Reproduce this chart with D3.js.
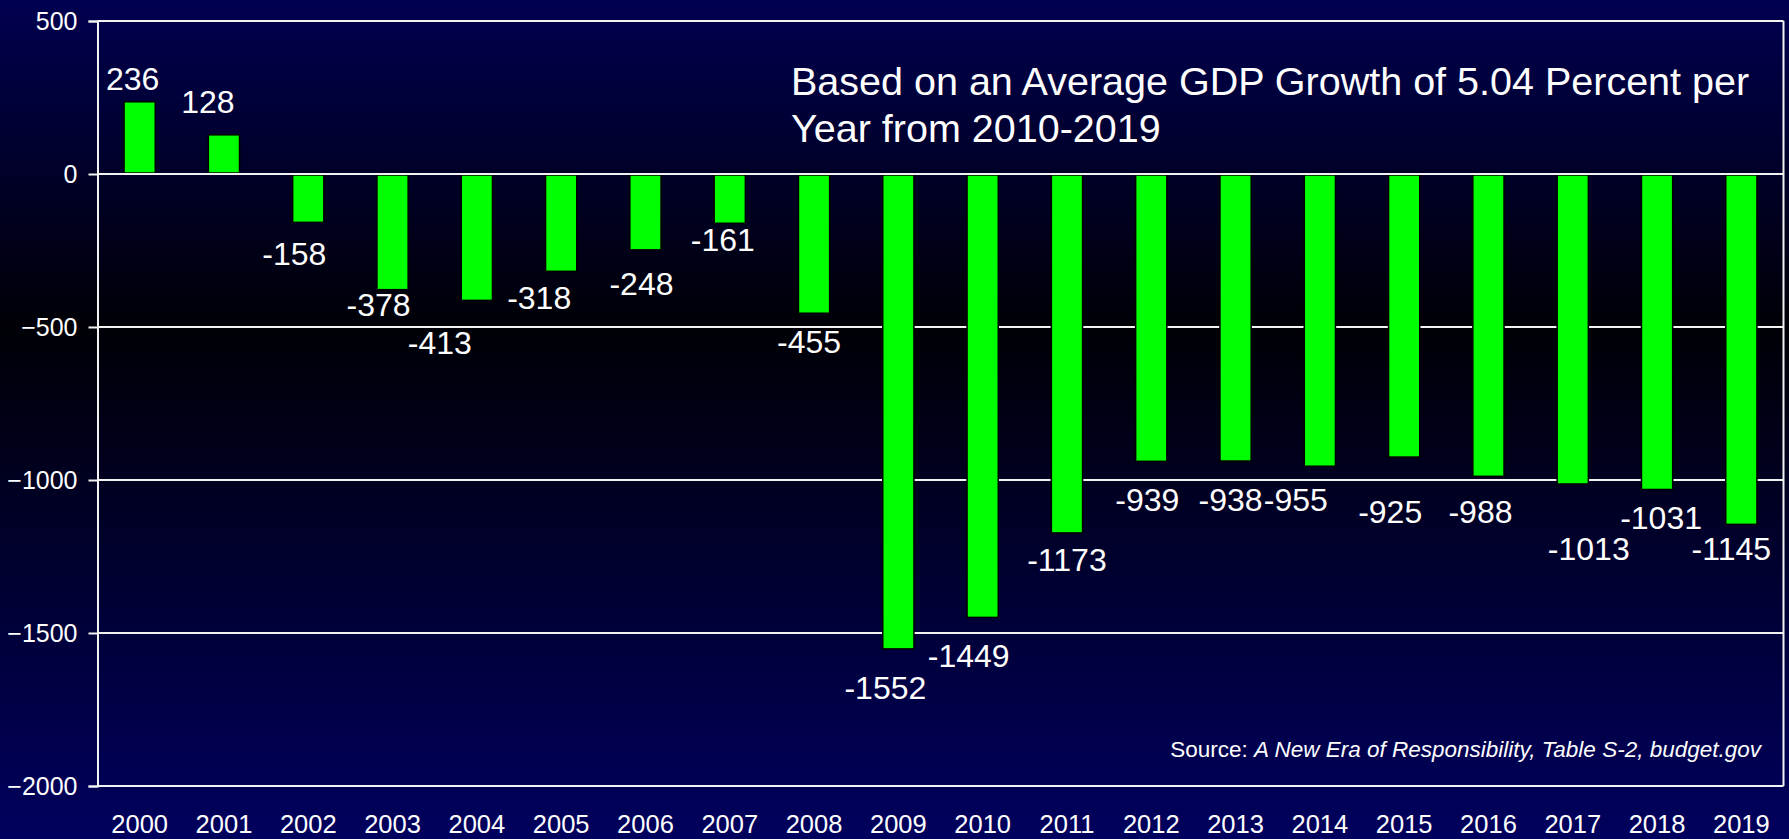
<!DOCTYPE html>
<html>
<head>
<meta charset="utf-8">
<script src="https://cdn.jsdelivr.net/npm/d3@7"></script>
<style>
  html, body { margin: 0; padding: 0; background: #000030; }
  svg { display: block; }
  text { font-family: "Liberation Sans", Arial, Helvetica, sans-serif; fill: #fff; }
</style>
</head>
<body>
<svg id="chart" width="1789" height="839"></svg>
<script>
// ---- Data ----
const years = ["2000","2001","2002","2003","2004","2005","2006","2007","2008","2009",
               "2010","2011","2012","2013","2014","2015","2016","2017","2018","2019"];
const deficits = [236, 128, -158, -378, -413, -318, -248, -161, -455, -1552,
                  -1449, -1173, -939, -938, -955, -925, -988, -1013, -1031, -1145];
const yTicks = [500, 0, -500, -1000, -1500, -2000];
const titleLines = ["Based on an Average GDP Growth of 5.04 Percent per", "Year from 2010-2019"];
const sourcePlain = "Source: ";
const sourceItalic = "A New Era of Responsibility, Table S-2, budget.gov";

// ---- Label nudges (manual label placement in the original, pixels) ----
const labelDx = [-7, -16, -14, -14, -37, -22, -4, -7, -5, -13, -14, 0, -4, -5, -24, -14, -8, 16, 4, -10];
const labelDy = [-12, -22, 43, 26, 54, 38, 45, 28, 40, 50, 50, 38, 50, 50, 45, 66, 47, 76, 40, 36];

(function () {
  // ---- Layout ----
  const W = 1789, H = 839;
  const pLeft = 97.5, pRight = 1783.5, pTop = 21, pBottom = 786;

  const svg = d3.select("#chart");

  // background gradient
  const defs = svg.append("defs");
  const grad = defs.append("linearGradient").attr("id", "bg")
    .attr("x1", 0).attr("y1", 0).attr("x2", 0).attr("y2", 1);
  grad.append("stop").attr("offset", "0%").attr("stop-color", "#000050");
  grad.append("stop").attr("offset", "39%").attr("stop-color", "#000006");
  grad.append("stop").attr("offset", "100%").attr("stop-color", "#00005e");
  svg.append("rect").attr("width", W).attr("height", H).attr("fill", "url(#bg)");

  const x = d3.scaleBand().domain(years).range([pLeft, pRight]).paddingInner(0).paddingOuter(0);
  const y = d3.scaleLinear().domain([-2000, 500]).range([pBottom, pTop]);

  // gridlines
  svg.append("g").selectAll("line").data(yTicks).join("line")
    .attr("x1", pLeft).attr("x2", pRight)
    .attr("y1", d => y(d)).attr("y2", d => y(d))
    .attr("stroke", "#f2f2f2").attr("stroke-width", 2);

  // frame right side
  svg.append("line").attr("x1", pRight).attr("x2", pRight).attr("y1", pTop).attr("y2", pBottom)
    .attr("stroke", "#f2f2f2").attr("stroke-width", 2);

  // y axis
  const yAxis = d3.axisLeft(y).tickValues(yTicks).tickSize(9).tickPadding(11).tickFormat(d3.format("d"));
  const gy = svg.append("g").attr("transform", `translate(${pLeft},0)`).call(yAxis);
  gy.select(".domain").attr("stroke", "#f2f2f2").attr("stroke-width", 2);
  gy.selectAll(".tick line").attr("stroke", "#f2f2f2").attr("stroke-width", 2);
  gy.selectAll(".tick text").style("font-size", "25px").attr("fill", "#fff")
    .style("font-family", "'Liberation Sans', Arial, sans-serif");

  // x axis labels
  const xAxis = d3.axisBottom(x).tickSize(0).tickPadding(0);
  const gx = svg.append("g").attr("transform", `translate(0,${pBottom})`).call(xAxis);
  gx.select(".domain").remove();
  gx.selectAll(".tick text").attr("dy", null).attr("y", 47)
    .style("font-size", "25.5px").attr("fill", "#fff")
    .style("font-family", "'Liberation Sans', Arial, sans-serif");

  // bars
  const barW = x.bandwidth() * 0.37;
  svg.append("g").selectAll("rect").data(deficits).join("rect")
    .attr("x", (d, i) => x(years[i]) + (x.bandwidth() - barW) / 2)
    .attr("y", d => Math.min(y(d), y(0)) + (d >= 0 ? 0 : 1))
    .attr("width", barW)
    .attr("height", d => Math.abs(y(d) - y(0)) - 1)
    .attr("fill", "#00ff00")
    .attr("stroke", "#000").attr("stroke-width", 1.5);

  // zero line on top of bars
  svg.append("line").attr("x1", pLeft).attr("x2", pRight).attr("y1", y(0)).attr("y2", y(0))
    .attr("stroke", "#f2f2f2").attr("stroke-width", 2);

  // data labels
  svg.append("g").selectAll("text").data(deficits).join("text")
    .attr("x", (d, i) => x(years[i]) + x.bandwidth() / 2 + labelDx[i])
    .attr("y", (d, i) => y(d) + labelDy[i])
    .attr("text-anchor", "middle")
    .style("font-size", "32px")
    .text(d => d);

  // title
  svg.append("g").selectAll("text").data(titleLines).join("text")
    .attr("x", 791).attr("y", (d, i) => 95 + i * 47)
    .style("font-size", "39.5px")
    .text(d => d);

  // source
  const src = svg.append("text").attr("x", 1761).attr("y", 757)
    .attr("text-anchor", "end").style("font-size", "22.5px");
  src.append("tspan").text(sourcePlain);
  src.append("tspan").style("font-style", "italic").text(sourceItalic);
})();
</script>
</body>
</html>
